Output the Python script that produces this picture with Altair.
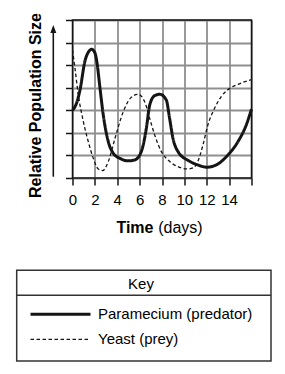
import altair as alt
import pandas as pd

# ---- data ----
para_days = [0, 0.35, 0.67, 1.12, 1.45, 1.71, 2.0, 2.16, 2.46, 2.75, 3.2, 3.65, 4.24, 5.0,
             5.56, 6.15, 6.6, 6.9, 7.35, 7.8, 8.38, 8.68, 8.98, 9.43, 10.4, 11.2, 12.0,
             12.85, 13.9, 14.79, 15.53, 16]
para_size = [3.0, 3.3, 3.9, 5.2, 5.6, 5.7, 5.55, 5.2, 3.97, 2.79, 1.61, 1.09, 0.87, 0.76,
             0.8, 1.17, 2.2, 3.23, 3.65, 3.71, 3.46, 2.64, 1.76, 1.17, 0.76, 0.58, 0.48,
             0.58, 1.02, 1.61, 2.35, 3.05]

yeast_days = [0, 0.22, 0.52, 0.97, 1.41, 1.86, 2.3, 2.7, 3.2, 3.8, 4.54, 5.2, 5.85, 6.45,
              6.9, 7.35, 7.94, 8.69, 9.43, 10.3, 10.8, 11.2, 11.66, 12.1, 12.7, 13.3, 14.05,
              14.79, 16]
yeast_size = [5.67, 4.86, 3.68, 2.5, 1.61, 0.87, 0.4, 0.33, 0.73, 1.76, 2.94, 3.55, 3.71,
              3.38, 2.64, 1.9, 1.17, 0.73, 0.5, 0.4, 0.45, 0.73, 1.46, 2.35, 3.09, 3.61,
              3.97, 4.15, 4.36]

series_names = ["Paramecium (predator)", "Yeast (prey)"]
x_ticks = [0, 2, 4, 6, 8, 10, 12, 14, 16]
y_ticks = [0, 1, 2, 3, 4, 5, 6, 7]
y_title = "Relative Population Size"
x_title_bold = "Time"
x_title_rest = "(days)"
key_title = "Key"

df = pd.concat([
    pd.DataFrame({"day": para_days, "size": para_size, "series": series_names[0]}),
    pd.DataFrame({"day": yeast_days, "size": yeast_size, "series": series_names[1]}),
], ignore_index=True)

W, H = 179, 158
FONT = "Liberation Sans"
INK = "#151515"
one = alt.Data(values=[{}])

legend = alt.Legend(
    title=key_title, orient="none", legendX=-43.5, legendY=256.8, direction="vertical",
    symbolType="stroke", symbolSize=3600, clipHeight=25, rowPadding=0,
    labelFontSize=15, labelFont=FONT, labelColor="#000", labelOffset=6, labelLimit=300,
    titleFontSize=15, titleFont=FONT, titleFontWeight="normal", titleColor="#000",
    titleAnchor="middle", titleAlign="center", titlePadding=10, padding=0, symbolOffset=0,
)

lines = alt.Chart(df).mark_line(interpolate="monotone").encode(
    x=alt.X("day:Q", scale=alt.Scale(domain=[0, 16], nice=False, zero=False),
            axis=alt.Axis(values=x_ticks, labelExpr="datum.value >= 16 ? '' : datum.label",
                          labelFlush=False, labelOverlap=False,
                          tickSize=7, tickWidth=1.5, tickColor=INK, grid=True,
                          gridColor="#8f8f8f", gridWidth=1.8, domain=False,
                          labelFontSize=15, labelFont=FONT, labelColor="#000",
                          labelPadding=7, title=None)),
    y=alt.Y("size:Q", scale=alt.Scale(domain=[0, 7], nice=False),
            axis=alt.Axis(values=y_ticks, labels=False, tickSize=7, tickWidth=1.5,
                          tickColor=INK, grid=True, gridColor="#8f8f8f", gridWidth=1.8,
                          domain=False, title=y_title, titleFont=FONT, titleFontSize=16,
                          titleFontWeight="bold", titleColor="#000", titleX=-37.5,
                          titleY=85, titleAngle=270, titleAlign="center",
                          titleBaseline="middle")),
    color=alt.Color("series:N", scale=alt.Scale(domain=series_names, range=[INK, INK]),
                    legend=legend),
    strokeDash=alt.StrokeDash("series:N",
                              scale=alt.Scale(domain=series_names, range=[[1, 0], [3.5, 2.5]]),
                              legend=legend),
    strokeWidth=alt.StrokeWidth("series:N",
                                scale=alt.Scale(domain=series_names, range=[3, 1.3]),
                                legend=legend),
)

border = alt.Chart(one).mark_rect(filled=False, color=INK, strokeWidth=1.5).encode(
    x=alt.value(0), x2=alt.value(W), y=alt.value(0), y2=alt.value(H))

arrow = alt.Chart(one).mark_rule(color=INK, strokeWidth=1.6).encode(
    x=alt.value(-19.2), y=alt.value(156.7), y2=alt.value(10))
arrow_head = alt.Chart(one).mark_point(shape="M0,-1L-0.75,1L0.75,1Z", filled=True, size=64,
                                       color=INK, opacity=1).encode(
    x=alt.value(-19.2), y=alt.value(9))

t1 = alt.Chart(one).mark_text(align="left", baseline="alphabetic", fontSize=16, font=FONT,
                              fontWeight="bold", color="#000").encode(
    x=alt.value(43.9), y=alt.value(213), text=alt.value(x_title_bold))
t2 = alt.Chart(one).mark_text(align="left", baseline="alphabetic", fontSize=16, font=FONT,
                              color="#000").encode(
    x=alt.value(85.7), y=alt.value(213), text=alt.value(x_title_rest))

key_box = alt.Chart(one).mark_rect(filled=False, color="#333", strokeWidth=1.5).encode(
    x=alt.value(-55.8), x2=alt.value(198.5), y=alt.value(250.3), y2=alt.value(341))
key_sep = alt.Chart(one).mark_rule(color="#333", strokeWidth=1.5).encode(
    x=alt.value(-55.8), x2=alt.value(198.5), y=alt.value(275.3))

chart = alt.layer(lines, border, arrow, arrow_head, t1, t2, key_box, key_sep).properties(
    width=W, height=H,
    autosize=alt.AutoSizeParams(type="none"),
    padding={"left": 72.5, "top": 20, "right": 33.5, "bottom": 196},
).configure_view(stroke=None)

chart.save("out.html", embed_options={"renderer": "svg", "actions": False})
